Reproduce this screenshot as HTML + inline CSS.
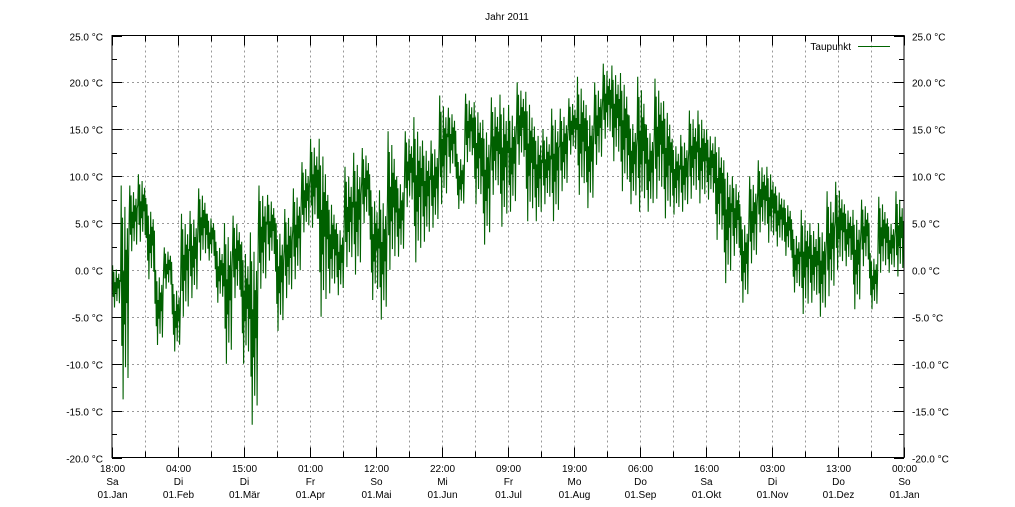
<!DOCTYPE html>
<html><head><meta charset="utf-8">
<style>
html,body{margin:0;padding:0;background:#fff;}
svg{display:block;font-family:"Liberation Sans","DejaVu Sans",sans-serif;font-size:10px;}
</style></head>
<body>
<svg id="chart" width="1015" height="507" viewBox="0 0 1015 507" xmlns="http://www.w3.org/2000/svg">
<rect x="0" y="0" width="1015" height="507" fill="#fff"/>
<text x="507" y="20" text-anchor="middle" font-size="10">Jahr 2011</text>
<g id="grid"></g>
<g id="axes"></g>
<g id="series"></g>
<rect x="112" y="35.5" width="792" height="422" fill="none" stroke="#000" stroke-width="1"/>
<g>
<text x="851" y="50" text-anchor="end" font-size="10">Taupunkt</text>
<line x1="858" y1="46.5" x2="890" y2="46.5" stroke="#006400" stroke-width="1"/>
</g>
</svg>
<script>
const yTicks = [25,20,15,10,5,0,-5,-10,-15,-20];
const xTime = ["18:00","04:00","15:00","01:00","12:00","22:00","09:00","19:00","06:00","16:00","03:00","13:00","00:00"];
const xDay = ["Sa","Di","Di","Fr","So","Mi","Fr","Mo","Do","Sa","Di","Do","So"];
const xDate = ["01.Jan","01.Feb","01.Mär","01.Apr","01.Mai","01.Jun","01.Jul","01.Aug","01.Sep","01.Okt","01.Nov","01.Dez","01.Jan"];
// 4-day bucket highs/lows (°C), 92 buckets over the year
const bucketHi = [0.5,9,9,10.2,7,0,2.4,-1.5,6,6.3,8.7,6,3,5,5.8,3,4,9,8,5,6.5,8.7,11.5,14,
 14,8,5,11,12.5,13,8.5,8.5,14.8,10,14.8,16.3,13.8,13.8,18.6,17.3,12.4,18.8,17.9,16,18.4,18.7,
 17.6,20,19,15.3,15,17.2,17.2,18.3,20.6,17.6,20,22,21.8,21,16.5,20.6,15.5,20.4,18,14,14.4,17,
 17,15,14.2,11.7,10,5.7,10,11.7,11,8.9,7.5,4.3,6.4,5,5,8.4,9.4,7,6.4,7.5,1.8,7.8,5.5,8.4];
const bucketLo = [-4,-13.8,2,3,-1,-8,-2,-8.7,-5,-3,1,1,-3.5,-10,-3,-10,-16.5,-2,1,-6.5,-3,-1,4,4.5,
 -5,-2.5,-2.7,0.3,-0.5,5,-3.2,-5.3,0,1.4,6.7,0.8,3,4.5,7,10.3,6.5,11.5,7,2.7,8,4.6,
 6.2,11.2,5.2,5.2,7,5.2,8.4,12.3,8,6.6,11.2,14,11.6,8.4,7,6.2,6.2,7.6,5.5,5.9,6.2,7.6,
 7.1,7.5,3.2,-1.4,1.5,-3.5,0.7,4,2.9,2.5,1.5,-2.4,-4.7,-3.5,-5,-2.8,0,0.4,-4.2,0.4,-4.2,-0.3,-0.3,-0.7];

const X0=112, X1=904, Y0=35.5, Y1=457.5;
const ymap = v => Y1 - (v - (-20)) / 45 * (Y1 - Y0);
const bucketX = i => X0 + i * (X1 - X0) / bucketHi.length;
const NS = "http://www.w3.org/2000/svg";
function mk(tag, attrs, parent){const e=document.createElementNS(NS,tag);for(const k in attrs)e.setAttribute(k,attrs[k]);parent.appendChild(e);return e;}
const grid=document.getElementById('grid'), axes=document.getElementById('axes'), series=document.getElementById('series');

yTicks.forEach(v=>{
  const y=Math.round(ymap(v))+0.5;
  if(v<25 && v>-20){
    const g=mk('line',{x1:X0,x2:X1,y1:y,y2:y,stroke:'#999','stroke-dasharray':'2,3','stroke-width':1},grid);
    
    
  }
  [[X0,X0+10],[X1-10,X1]].forEach(p=>{mk('line',{x1:p[0],x2:p[1],y1:y,y2:y,stroke:'#000'},axes);});
  const l=mk('text',{x:103,y:y+4,'text-anchor':'end'},axes);l.textContent=v.toFixed(1)+' °C';
  
  
  const r=mk('text',{x:912,y:y+4},axes);r.textContent=v.toFixed(1)+' °C';
  
  
});
for(let v=-17.5; v<25; v+=5){const y=Math.round(ymap(v))+0.5;
  mk('line',{x1:X0,x2:X0+5,y1:y,y2:y,stroke:'#000'},axes);mk('line',{x1:X1-5,x2:X1,y1:y,y2:y,stroke:'#000'},axes);}
const nDiv=24;
for(let k=0;k<=nDiv;k++){
  const x=Math.round(X0+k*(X1-X0)/nDiv)+0.5;
  if(k>0&&k<nDiv){const g=mk('line',{x1:x,x2:x,y1:Y0,y2:Y1,stroke:'#999','stroke-dasharray':'2,3'},grid);
    
    }
  const len = k%2===0?10:6;
  mk('line',{x1:x,x2:x,y1:Y1-len,y2:Y1,stroke:'#000'},axes);
  mk('line',{x1:x,x2:x,y1:Y0,y2:Y0+len,stroke:'#000'},axes);
  if(k%2===0){const i=k/2;
    const t=mk('text',{x:x,y:472,'text-anchor':'middle'},axes);
    
    
    [[xTime[i],0],[xDay[i],13],[xDate[i],26]].forEach(([s,dy])=>{const ts=mk('tspan',{x:x,y:472+dy},t);ts.textContent=s;});
  }
}
const pattern=[0.55,1,0.25,0.85,0,0.6,0.35,0.9,0.15,0.7,0.45,0.8,0.1,0.65];
let pts=[];
bucketHi.forEach((hi,i)=>{
  const lo=bucketLo[i], x0=bucketX(i), w=(X1-X0)/bucketHi.length;
  pattern.forEach((f,j)=>{pts.push([x0+j*w/pattern.length, ymap(lo+f*(hi-lo))]);});
});
const path=mk('polyline',{points:pts.map(p=>p[0].toFixed(1)+','+p[1].toFixed(1)).join(' '),fill:'none',stroke:'#006000','stroke-width':1.1},series);


</script>
</body></html>
